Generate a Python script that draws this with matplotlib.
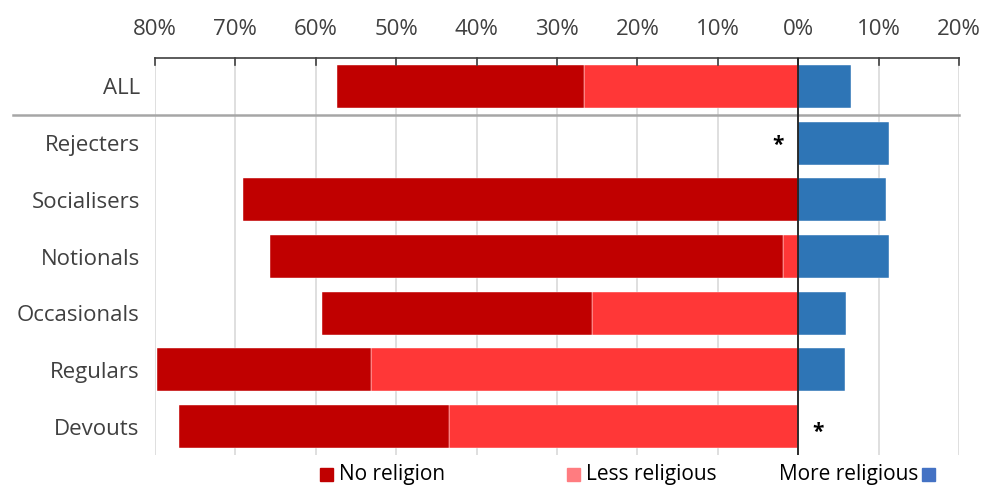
import matplotlib
matplotlib.use("Agg")
import matplotlib.pyplot as plt
from matplotlib.patches import Rectangle

categories = ["ALL", "Rejecters", "Socialisers", "Notionals", "Occasionals", "Regulars", "Devouts"]
no_religion = [30.7, 0.0, 69.0, 63.8, 33.5, 26.6, 33.6]
less_religious = [26.7, 0.0, 0.0, 1.9, 25.7, 53.1, 43.4]
more_religious = [6.6, 11.3, 10.9, 11.3, 6.0, 5.8, 0.0]
tick_values = [-80, -70, -60, -50, -40, -30, -20, -10, 0, 10, 20]
tick_labels = ["80%", "70%", "60%", "50%", "40%", "30%", "20%", "10%", "0%", "10%", "20%"]
asterisk_rows = ["Rejecters", "Devouts"]

C_NO = "#C00000"
C_LESS = "#FF3737"
C_MORE = "#2E75B6"
C_LESS_LEG = "#FF7C80"

plt.rcParams['font.family'] = ['Open Sans', 'DejaVu Sans']

fig = plt.figure(figsize=(9.92, 4.86), dpi=100)
ax = fig.add_axes([155/992, 1-455/486, (959-155)/992, (455-58)/486])

y = list(range(len(categories)))
h = 0.76
less_neg = [-v for v in less_religious]
ax.barh(y, less_neg, height=h, color=C_LESS, edgecolor="white", linewidth=0.3, zorder=3)
ax.barh(y, [-v for v in no_religion], left=less_neg, height=h, color=C_NO, edgecolor="white", linewidth=0.3, zorder=3)
ax.barh(y, more_religious, height=h, color=C_MORE, edgecolor="white", linewidth=0.3, zorder=3)

ax.set_xlim(-80, 20)
ax.set_ylim(len(categories) - 0.5, -0.5)
ax.set_yticks(y)
ax.set_yticklabels(categories, fontsize=16, color="#404040")
ax.tick_params(axis='y', length=0, pad=11)

ax.xaxis.tick_top()
ax.set_xticks(tick_values)
ax.set_xticklabels(tick_labels, fontsize=16, color="#404040")
ax.tick_params(axis='x', direction='out', length=0, pad=13)

for s in ["left", "right", "bottom"]:
    ax.spines[s].set_visible(False)
ax.spines["top"].set_color("#404040")
ax.spines["top"].set_linewidth(1.2)

for t in tick_values:
    ax.plot([t, t], [-0.5, -0.5 + 0.13], color="#404040", lw=1.2, clip_on=False, zorder=4)

ax.grid(axis='x', color="#D9D9D9", lw=1.2, zorder=0)
ax.set_axisbelow(True)
ax.axvline(0, color="#202020", lw=1.3, zorder=5)

ax.plot([-80 - 142/804*100, 20], [0.5, 0.5], color="#A6A6A6", lw=1.8, clip_on=False, zorder=4)

for name in asterisk_rows:
    i = categories.index(name)
    xpos = -2.5 if more_religious[i] > 0 else 2.5
    ax.text(xpos, i + (0.05 if xpos < 0 else 0.1), "*", ha="center", va="center", fontsize=15, fontweight="bold", color="black", zorder=6)

def fx(px):
    return px / 992
def fy(py):
    return 1 - py / 486

sq = 13
ly = 474
fig.patches.append(Rectangle((fx(320), fy(ly + 7)), sq/992, sq/486, transform=fig.transFigure, color=C_NO))
fig.text(fx(339), fy(ly), "No religion", fontsize=15, va="center", ha="left", color="black")
fig.patches.append(Rectangle((fx(567), fy(ly + 7)), sq/992, sq/486, transform=fig.transFigure, color=C_LESS_LEG))
fig.text(fx(586), fy(ly), "Less religious", fontsize=15, va="center", ha="left", color="black")
fig.text(fx(918), fy(ly), "More religious", fontsize=15, va="center", ha="right", color="black")
fig.patches.append(Rectangle((fx(922), fy(ly + 7)), sq/992, sq/486, transform=fig.transFigure, color="#4472C4"))

fig.savefig("out.png", dpi=100)
